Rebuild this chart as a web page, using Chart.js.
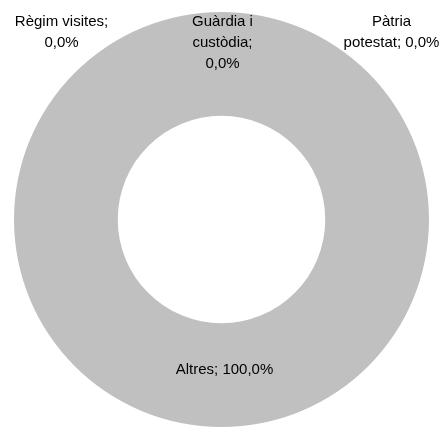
<!DOCTYPE html>
<html>
<head>
<meta charset="utf-8">
<script src="https://cdn.jsdelivr.net/npm/chart.js@4"></script>
<style>
  html, body { margin: 0; padding: 0; background: #ffffff; }
  #wrap { width: 443px; height: 427px; position: relative; }
</style>
</head>
<body>
<div id="wrap"><canvas id="chart"></canvas></div>
<script>
const categories = ['Règim visites', 'Guàrdia i custòdia', 'Pàtria potestat', 'Altres'];
const values = [0, 0, 0, 100];
const labelLines = [
  ['Règim visites;', '0,0%'],
  ['Guàrdia i', 'custòdia;', '0,0%'],
  ['Pàtria', 'potestat; 0,0%'],
  ['Altres; 100,0%']
];

const FONT = '15px "Liberation Sans", Arial, sans-serif';
const LINE_H = 21;

// offsets (dx from center, y of first line) for the zero slices, which Chart.js stacks at the top
const zeroLabelPos = [
  { dx: -160, y: 22 },
  { dx: 1, y: 22 },
  { dx: 170, y: 22 }
];

const labelPlugin = {
  id: 'sliceLabels',
  afterDatasetsDraw(chart) {
    const ctx = chart.ctx;
    const meta = chart.getDatasetMeta(0);
    ctx.save();
    ctx.font = FONT;
    ctx.fillStyle = '#000000';
    ctx.textAlign = 'center';
    ctx.textBaseline = 'middle';
    meta.data.forEach((arc, i) => {
      const lines = labelLines[i];
      let x, y;
      if (values[i] === 0) {
        x = arc.x + zeroLabelPos[i].dx;
        y = zeroLabelPos[i].y;
      } else {
        const p = arc.tooltipPosition();
        x = p.x + 3;
        y = p.y - 5 - (lines.length - 1) * LINE_H / 2;
      }
      lines.forEach((t, k) => ctx.fillText(t, x, y + k * LINE_H));
    });
    ctx.restore();
  }
};

new Chart(document.getElementById('chart'), {
  type: 'doughnut',
  data: {
    labels: categories,
    datasets: [{
      data: values,
      backgroundColor: ['#4f81bd', '#c0504d', '#9bbb59', '#c0c0c0'],
      borderWidth: 0
    }]
  },
  options: {
    responsive: true,
    maintainAspectRatio: false,
    animation: false,
    cutout: '50%',
    layout: { padding: { top: 12, bottom: 0, left: 0, right: 0 } },
    plugins: {
      legend: { display: false },
      tooltip: { enabled: false }
    }
  },
  plugins: [labelPlugin]
});
</script>
</body>
</html>
